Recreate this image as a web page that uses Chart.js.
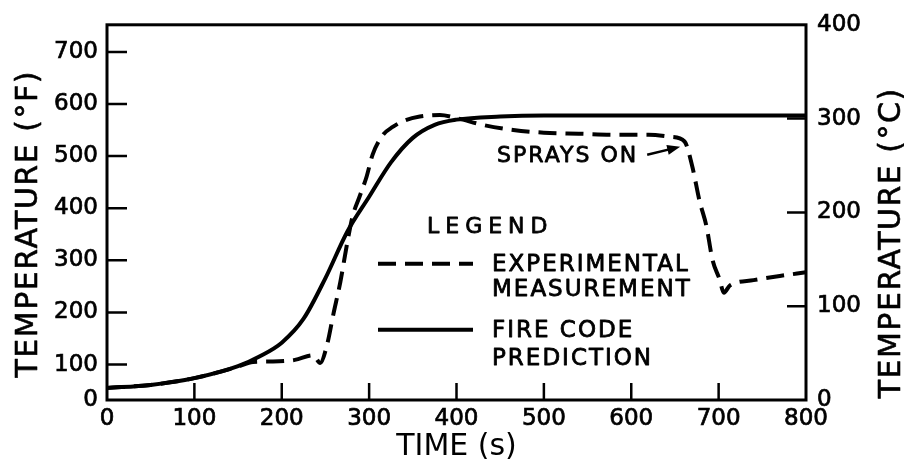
<!DOCTYPE html>
<html><head><meta charset="utf-8">
<script src="https://cdn.jsdelivr.net/npm/chart.js@4.4.0/dist/chart.umd.min.js"></script>
<style>html,body{margin:0;padding:0;background:#fff;}#wrap{width:904px;height:468px;position:relative;}</style>
</head><body><div id="wrap"><canvas id="c"></canvas></div>
<script>
// ---- data (time in s, temperature in °F) ----
const predTime  = [0, 50, 100, 150, 175, 200, 225, 250, 275, 300, 325, 350, 375, 400, 450, 500, 600, 700, 800];
const predTempF = [55, 61, 74, 97, 116, 142, 188, 266, 355, 422, 488, 535, 560, 570, 576, 578, 578, 578, 578];

const expTime  = [0, 50, 100, 150, 167, 190, 215, 236, 244, 252, 259, 267, 275, 281, 289, 297, 304, 316, 327, 340, 358, 381, 400, 430, 465, 500, 540, 580, 620, 645, 661, 670, 678, 686, 693, 701, 706, 713, 740, 770, 800];
const expTempF = [55, 61, 74, 96, 105, 106, 109, 118, 103, 139, 196, 258, 334, 384, 422, 460, 503, 541, 556, 568, 576, 579, 573, 560, 550, 545, 543, 541, 541, 537, 528, 479, 415, 366, 301, 264, 238, 252, 262, 270, 277];

const xTickValues     = [0, 100, 200, 300, 400, 500, 600, 700, 800];
const leftTickValues  = [32, 100, 200, 300, 400, 500, 600, 700];
const leftTickLabels  = ['0', '100', '200', '300', '400', '500', '600', '700'];
const rightTickValues = [0, 100, 200, 300, 400];

const seriesLabels = [['EXPERIMENTAL', 'MEASUREMENT'], ['FIRE CODE', 'PREDICTION']];
const legendTitle = 'LEGEND';
const xTitle = 'TIME (s)';
const leftTitle = 'TEMPERATURE (°F)';
const rightTitle = 'TEMPERATURE (°C)';
const spraysOn = { time: 656, tempF: 518, label: 'SPRAYS ON' };

const FONT = '"DejaVu Sans", sans-serif';

function toXY(xs, ys) { return xs.map((v, i) => ({ x: v, y: ys[i] })); }

function drawLabel(ctx, text, x, y, size, opts = {}) {
  ctx.save();
  ctx.translate(x, y);
  if (opts.rot) ctx.rotate(opts.rot);
  ctx.font = size + 'px ' + FONT;
  ctx.letterSpacing = (opts.ls || 0) + 'px';
  ctx.textAlign = opts.align || 'left';
  ctx.textBaseline = 'alphabetic';
  ctx.fillStyle = '#000';
  ctx.strokeStyle = '#000';
  ctx.lineWidth = opts.sw == null ? 0.8 : opts.sw;
  ctx.lineJoin = 'round';
  ctx.fillText(text, 0, size * 0.365);
  if (ctx.lineWidth > 0) ctx.strokeText(text, 0, size * 0.365);
  ctx.restore();
}

const overlay = {
  id: 'overlay',
  afterDraw(chart) {
    const { ctx, chartArea: a, scales } = chart;
    const { x, y, y1 } = scales;
    ctx.save();
    ctx.strokeStyle = '#000';
    ctx.fillStyle = '#000';
    ctx.setLineDash([]);
    // frame
    ctx.lineWidth = 3;
    ctx.strokeRect(a.left, a.top, a.right - a.left, a.bottom - a.top);
    // inward tick marks
    ctx.lineWidth = 2.5;
    ctx.beginPath();
    x.ticks.forEach(t => {
      if (t.value <= x.min || t.value >= x.max) return;
      const p = x.getPixelForValue(t.value);
      ctx.moveTo(p, a.bottom); ctx.lineTo(p, a.bottom - 17);
    });
    y.ticks.forEach(t => {
      if (t.value <= y.min || t.value >= y.max) return;
      const p = y.getPixelForValue(t.value);
      ctx.moveTo(a.left, p); ctx.lineTo(a.left + 20, p);
    });
    y1.ticks.forEach(t => {
      if (t.value <= y1.min || t.value >= y1.max) return;
      const p = y1.getPixelForValue(t.value);
      ctx.moveTo(a.right, p); ctx.lineTo(a.right - 19, p);
    });
    ctx.stroke();

    // vertical axis titles (both read bottom-to-top)
    drawLabel(ctx, leftTitle, a.left - 81, a.top + 199, 30, { rot: -Math.PI / 2, align: 'center', ls: 1.5, sw: 0.6 });
    drawLabel(ctx, rightTitle, a.right + 83, a.top + 218, 30, { rot: -Math.PI / 2, align: 'center', ls: 1.5, sw: 0.6 });

    // legend
    const ds = chart.data.datasets;
    const lx = a.left + 271, lw = 95;
    drawLabel(ctx, legendTitle, a.left + 320, a.top + 200, 22, { ls: 6 });
    const rows = [{ ds: ds[0], ly: a.top + 239, ty: [a.top + 238, a.top + 263], text: seriesLabels[0] },
                  { ds: ds[1], ly: a.top + 305, ty: [a.top + 304, a.top + 332], text: seriesLabels[1] }];
    rows.forEach(r => {
      ctx.save();
      ctx.lineWidth = r.ds.borderWidth;
      ctx.setLineDash(r.ds.borderDash || []);
      ctx.beginPath(); ctx.moveTo(lx, r.ly); ctx.lineTo(lx + lw, r.ly); ctx.stroke();
      ctx.restore();
      r.text.forEach((t, i) => drawLabel(ctx, t, a.left + 385, r.ty[i], 23, { ls: 2 }));
    });

    // "SPRAYS ON" annotation with arrow to the experimental curve
    const tx = x.getPixelForValue(spraysOn.time), ty = y.getPixelForValue(spraysOn.tempF);
    drawLabel(ctx, spraysOn.label, tx - 42, ty + 7, 22, { align: 'right', ls: 2 });
    const sx = tx - 33, sy = ty + 8;
    const ang = Math.atan2(ty - sy, tx - sx);
    ctx.lineWidth = 2.5;
    ctx.beginPath(); ctx.moveTo(sx, sy); ctx.lineTo(tx - 8 * Math.cos(ang), ty - 8 * Math.sin(ang)); ctx.stroke();
    ctx.beginPath();
    ctx.moveTo(tx, ty);
    ctx.lineTo(tx - 13 * Math.cos(ang) + 5 * Math.sin(ang), ty - 13 * Math.sin(ang) - 5 * Math.cos(ang));
    ctx.lineTo(tx - 13 * Math.cos(ang) - 5 * Math.sin(ang), ty - 13 * Math.sin(ang) + 5 * Math.cos(ang));
    ctx.closePath(); ctx.fill();
    ctx.restore();
  }
};

const tickFont = { family: FONT, size: 23 };
const tickCommon = { font: tickFont, color: '#000', autoSkip: false, textStrokeColor: '#000', textStrokeWidth: 0.7 };

new Chart(document.getElementById('c'), {
  type: 'line',
  data: {
    datasets: [
      { label: seriesLabels[0].join(' '), data: toXY(expTime, expTempF), yAxisID: 'y',
        borderColor: '#000', borderWidth: 4, borderDash: [18, 9], pointRadius: 0,
        cubicInterpolationMode: 'monotone', fill: false },
      { label: seriesLabels[1].join(' '), data: toXY(predTime, predTempF), yAxisID: 'y',
        borderColor: '#000', borderWidth: 4, pointRadius: 0,
        cubicInterpolationMode: 'monotone', fill: false }
    ]
  },
  options: {
    responsive: true, maintainAspectRatio: false, animation: false,
    layout: { padding: { top: 18, left: 0, right: 0, bottom: 0 } },
    plugins: { legend: { display: false }, tooltip: { enabled: false } },
    scales: {
      x: {
        type: 'linear', min: 0, max: 800,
        afterBuildTicks: s => { s.ticks = xTickValues.map(v => ({ value: v })); },
        afterFit: s => { s.height = 68; },
        grid: { display: false, drawTicks: false }, border: { display: false },
        ticks: Object.assign({}, tickCommon, { padding: 5, maxRotation: 0 }),
        title: { display: true, text: xTitle, color: '#000', font: { family: FONT, size: 30 }, padding: { top: 0, bottom: 3 } }
      },
      y: {
        type: 'linear', position: 'left', min: 32, max: 752,
        afterBuildTicks: s => { s.ticks = leftTickValues.map(v => ({ value: v })); },
        afterFit: s => { s.width = 107; },
        grid: { display: false, drawTicks: false }, border: { display: false },
        ticks: Object.assign({}, tickCommon, { padding: 9,
                 callback: v => leftTickLabels[leftTickValues.indexOf(v)] })
      },
      y1: {
        type: 'linear', position: 'right', min: 0, max: 400,
        afterBuildTicks: s => { s.ticks = rightTickValues.map(v => ({ value: v })); },
        afterFit: s => { s.width = 98; },
        grid: { display: false, drawTicks: false }, border: { display: false },
        ticks: Object.assign({}, tickCommon, { padding: 11 })
      }
    }
  },
  plugins: [overlay]
});
</script></body></html>
